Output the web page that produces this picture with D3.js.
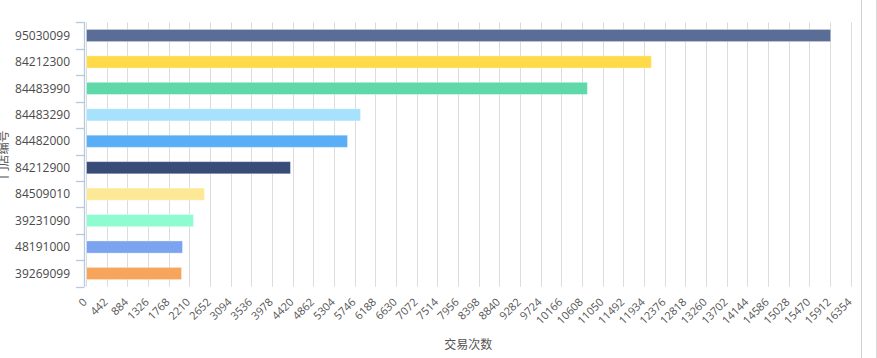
<!DOCTYPE html>
<html>
<head>
<meta charset="utf-8">
<script src="https://cdn.jsdelivr.net/npm/d3@7/dist/d3.min.js"></script>
<style>
  html, body { margin: 0; padding: 0; background: #fff; }
  svg { display: block; font-family: "Open Sans", "Noto Sans", "Noto Sans CJK SC", sans-serif; }
</style>
</head>
<body>
<svg id="chart" width="877" height="358"></svg>
<script>
const categories = ["95030099","84212300","84483990","84483290","84482000","84212900","84509010","39231090","48191000","39269099"];
const values = [15915, 12081, 10713, 5860, 5582, 4362, 2523, 2288, 2053, 2032];
const colors = ["#5a6d96","#ffdb4a","#5fd9aa","#a8e1fc","#59aef5","#394c78","#fde896","#8ffbd0","#7ba3ef","#f7a55c"];
const xTickStep = 442;
const xMax = 16354;
const xTickLabels = d3.range(0, xMax + 1, xTickStep);
const xTitle = "交易次数";
const yTitle = "门店编号";

(function () {
const svg = d3.select("#chart");
const mLeft = 86, mRight = 850.7, mTop = 22.3, mBottom = 286.7;

const x = d3.scaleLinear().domain([0, xMax]).range([mLeft, mRight]);
const y = d3.scaleBand().domain(categories).range([mTop, mBottom]).padding(0);

// gridlines
svg.append("g").selectAll("line").data(xTickLabels).join("line")
  .attr("x1", d => Math.round(x(d)) + 0.5).attr("x2", d => Math.round(x(d)) + 0.5)
  .attr("y1", mTop).attr("y2", mBottom)
  .attr("stroke", "#dcdcdc").attr("stroke-width", 1);

// right separator lines
svg.append("line").attr("x1", 861.5).attr("x2", 861.5).attr("y1", 0).attr("y2", 358)
  .attr("stroke", "#cfcfcf");
svg.append("line").attr("x1", 876.5).attr("x2", 876.5).attr("y1", 0).attr("y2", 358)
  .attr("stroke", "#d8d8d8");

// bars
const bh = y.bandwidth() * 0.46;
svg.append("g").selectAll("rect").data(categories).join("rect")
  .attr("x", x(0) + 0.5)
  .attr("y", (d) => y(d) + y.bandwidth() / 2 - bh / 2)
  .attr("width", (d, i) => x(values[i]) - x(0))
  .attr("height", bh)
  .attr("fill", (d, i) => colors[i])
  .attr("stroke", "rgba(255,255,255,0.35)")
  .attr("stroke-width", 1);

// y axis
const yAxisG = svg.append("g");
yAxisG.append("line").attr("x1", 84.5).attr("x2", 84.5).attr("y1", mTop).attr("y2", mBottom)
  .attr("stroke", "#b7c9de").attr("stroke-width", 1.3);
const boundaries = categories.map(c => y(c)).concat([mBottom]);
yAxisG.selectAll("line.tick").data(boundaries).join("line").attr("class", "tick")
  .attr("x1", 76).attr("x2", 84.5)
  .attr("y1", d => Math.round(d) + 0.5).attr("y2", d => Math.round(d) + 0.5)
  .attr("stroke", "#b7c9de").attr("stroke-width", 1.3);
yAxisG.selectAll("text").data(categories).join("text")
  .attr("x", 70).attr("y", d => y(d) + y.bandwidth() / 2)
  .attr("dy", "0.35em").attr("text-anchor", "end")
  .attr("font-size", 12).attr("fill", "#4a4a4a")
  .text(d => d);

// x tick labels
svg.append("g").selectAll("text").data(xTickLabels).join("text")
  .attr("transform", d => `translate(${x(d) - 1},300) rotate(-45)`)
  .attr("dy", "0.35em").attr("text-anchor", "end")
  .attr("font-size", 11).attr("fill", "#555")
  .text(d => d);

// axis titles
svg.append("text").attr("x", (mLeft + mRight) / 2).attr("y", 345)
  .attr("dy", "0.35em").attr("text-anchor", "middle")
  .attr("font-size", 12).attr("fill", "#555").text(xTitle);
svg.append("text").attr("transform", `translate(8,${(mTop + mBottom) / 2}) rotate(-90)`)
  .attr("text-anchor", "middle")
  .attr("font-size", 12).attr("fill", "#555").text(yTitle);
})();
</script>
</body>
</html>
